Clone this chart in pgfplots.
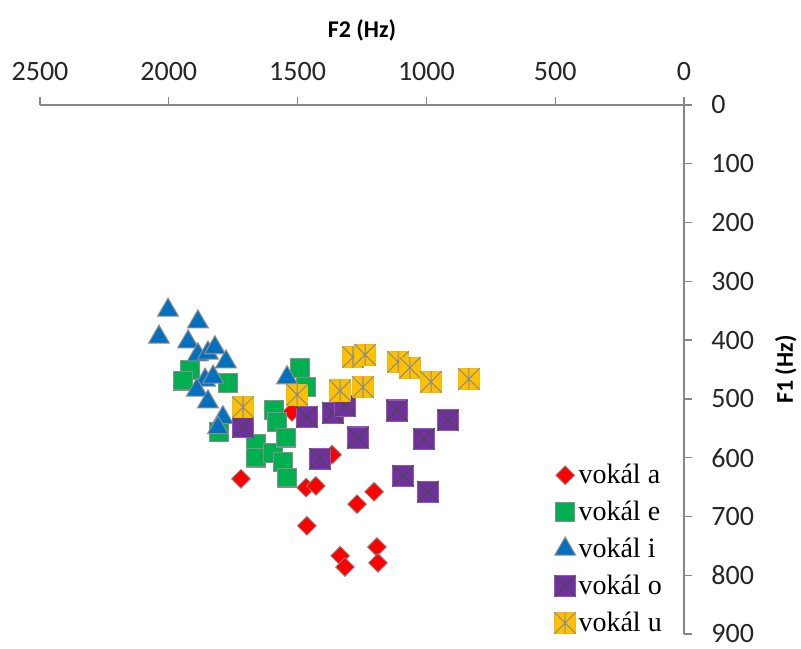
\documentclass[border=0pt]{standalone}
\usepackage{fontspec}
\setmainfont{Carlito}
\newfontfamily\legfont{Liberation Serif}
\usepackage{pgfplots}
\pgfplotsset{compat=1.18}
\definecolor{cA}{HTML}{FF0000}
\definecolor{cE}{HTML}{00B050}
\definecolor{cI}{HTML}{0070C0}
\definecolor{cO}{HTML}{7030A0}
\definecolor{cU}{HTML}{FFC000}
\definecolor{edge}{HTML}{8C8C8C}
\definecolor{axgray}{HTML}{868686}
\definecolor{xdark}{HTML}{4A4A4A}
\definecolor{xlight}{HTML}{8C8C8C}
\pgfdeclareplotmark{sqx}{%
  \pgfpathrectangle{\pgfqpoint{-\pgfplotmarksize}{-\pgfplotmarksize}}{\pgfqpoint{2\pgfplotmarksize}{2\pgfplotmarksize}}%
  \pgfusepathqfillstroke
  \begin{pgfscope}
  \pgfsetstrokecolor{xdark}%
  \pgfpathmoveto{\pgfqpoint{-\pgfplotmarksize}{-\pgfplotmarksize}}\pgfpathlineto{\pgfqpoint{\pgfplotmarksize}{\pgfplotmarksize}}%
  \pgfpathmoveto{\pgfqpoint{-\pgfplotmarksize}{\pgfplotmarksize}}\pgfpathlineto{\pgfqpoint{\pgfplotmarksize}{-\pgfplotmarksize}}%
  \pgfusepathqstroke
  \end{pgfscope}}
\pgfdeclareplotmark{sqast}{%
  \pgfpathrectangle{\pgfqpoint{-\pgfplotmarksize}{-\pgfplotmarksize}}{\pgfqpoint{2\pgfplotmarksize}{2\pgfplotmarksize}}%
  \pgfusepathqfillstroke
  \begin{pgfscope}
  \pgfsetstrokecolor{xlight}%
  \pgfpathmoveto{\pgfqpoint{-\pgfplotmarksize}{-\pgfplotmarksize}}\pgfpathlineto{\pgfqpoint{\pgfplotmarksize}{\pgfplotmarksize}}%
  \pgfpathmoveto{\pgfqpoint{-\pgfplotmarksize}{\pgfplotmarksize}}\pgfpathlineto{\pgfqpoint{\pgfplotmarksize}{-\pgfplotmarksize}}%
  \pgfpathmoveto{\pgfqpoint{0pt}{-\pgfplotmarksize}}\pgfpathlineto{\pgfqpoint{0pt}{\pgfplotmarksize}}%
  \pgfusepathqstroke
  \end{pgfscope}}
\begin{document}
\begin{tikzpicture}
\begin{axis}[
  name=ax,
  scale only axis,
  width=483pt, height=396.75pt,
  xmin=0, xmax=2500, ymin=0, ymax=900,
  x dir=reverse, y dir=reverse,
  axis x line*=top, axis y line*=right,
  axis line style={axgray, line width=1pt},
  every tick/.style={axgray, line width=1pt},
  tick align=outside,
  major tick length=6pt,
  xtick={0,500,...,2500}, ytick={0,100,...,900},
  /pgf/number format/1000 sep={},
  /pgf/number format/assume math mode=true,
  tick label style={font=\fontsize{21}{25}\selectfont, text=black!85},
  xticklabel shift=9pt, yticklabel shift=11pt,
  label style={font=\bfseries\fontsize{18}{22}\selectfont},
  xlabel={F2 (Hz)}, ylabel={F1 (Hz)},
  xlabel shift=9pt, ylabel shift=9pt,
  clip=false,
  legend style={draw=none, fill=none, font=\legfont\fontsize{21}{25}\selectfont,
    at={(0.97,-0.005)}, anchor=south east, row sep=7.6pt, inner sep=0pt},
  legend cell align=left,
]
\addplot[only marks, mark=square*, mark size=5pt,
  mark options={rotate=45, fill=cA, draw=edge, line width=0.6pt}] coordinates {
 (1720,636) (1467,651) (1429,648) (1269,679) (1203,658) (1464,716)
 (1335,767) (1316,786) (1192,752) (1188,779) (1366,595) (1522,522)
};
\addlegendentry{vokál a}
\addplot[only marks, mark=square*, mark size=7pt,
  mark options={fill=cE, draw=edge, line width=0.8pt}] coordinates {
 (1918,451) (1945,469) (1770,473) (1805,556) (1491,447) (1467,480)
 (1592,519) (1580,539) (1661,577) (1661,600) (1595,592) (1545,566)
 (1557,607) (1541,634)
};
\addlegendentry{vokál e}
\addplot[only marks, mark=triangle*, mark size=9pt,
  mark options={fill=cI, draw=edge, line width=0.8pt}] coordinates {
 (2003,349) (1887,369) (2038,395) (1925,403) (1887,425) (1848,422)
 (1821,413) (1778,437) (1859,468) (1828,463) (1891,485) (1848,505)
 (1790,532) (1809,549) (1541,464)
};
\addlegendentry{vokál i}
\addplot[only marks, mark=sqx, mark size=8pt,
  mark options={fill=cO, draw=cO!80!white, line width=0.8pt}] coordinates {
 (1712,548) (1464,531) (1363,524) (1316,512) (1266,566) (1413,602)
 (1114,520) (1009,568) (916,536) (1091,631) (994,658)
};
\addlegendentry{vokál o}
\addplot[only marks, mark=sqast, mark size=8pt,
  mark options={fill=cU, draw=cU!90!gray, line width=0.8pt}] coordinates {
 (1285,429) (1238,425) (1110,437) (1064,447) (982,471) (835,466)
 (1335,486) (1246,480) (1502,493) (1712,514)
};
\addlegendentry{vokál u}
\end{axis}
\useasboundingbox ([xshift=-30pt,yshift=-11pt]ax.south west) rectangle ([xshift=87.75pt,yshift=78.75pt]ax.north east);
\end{tikzpicture}
\end{document}
